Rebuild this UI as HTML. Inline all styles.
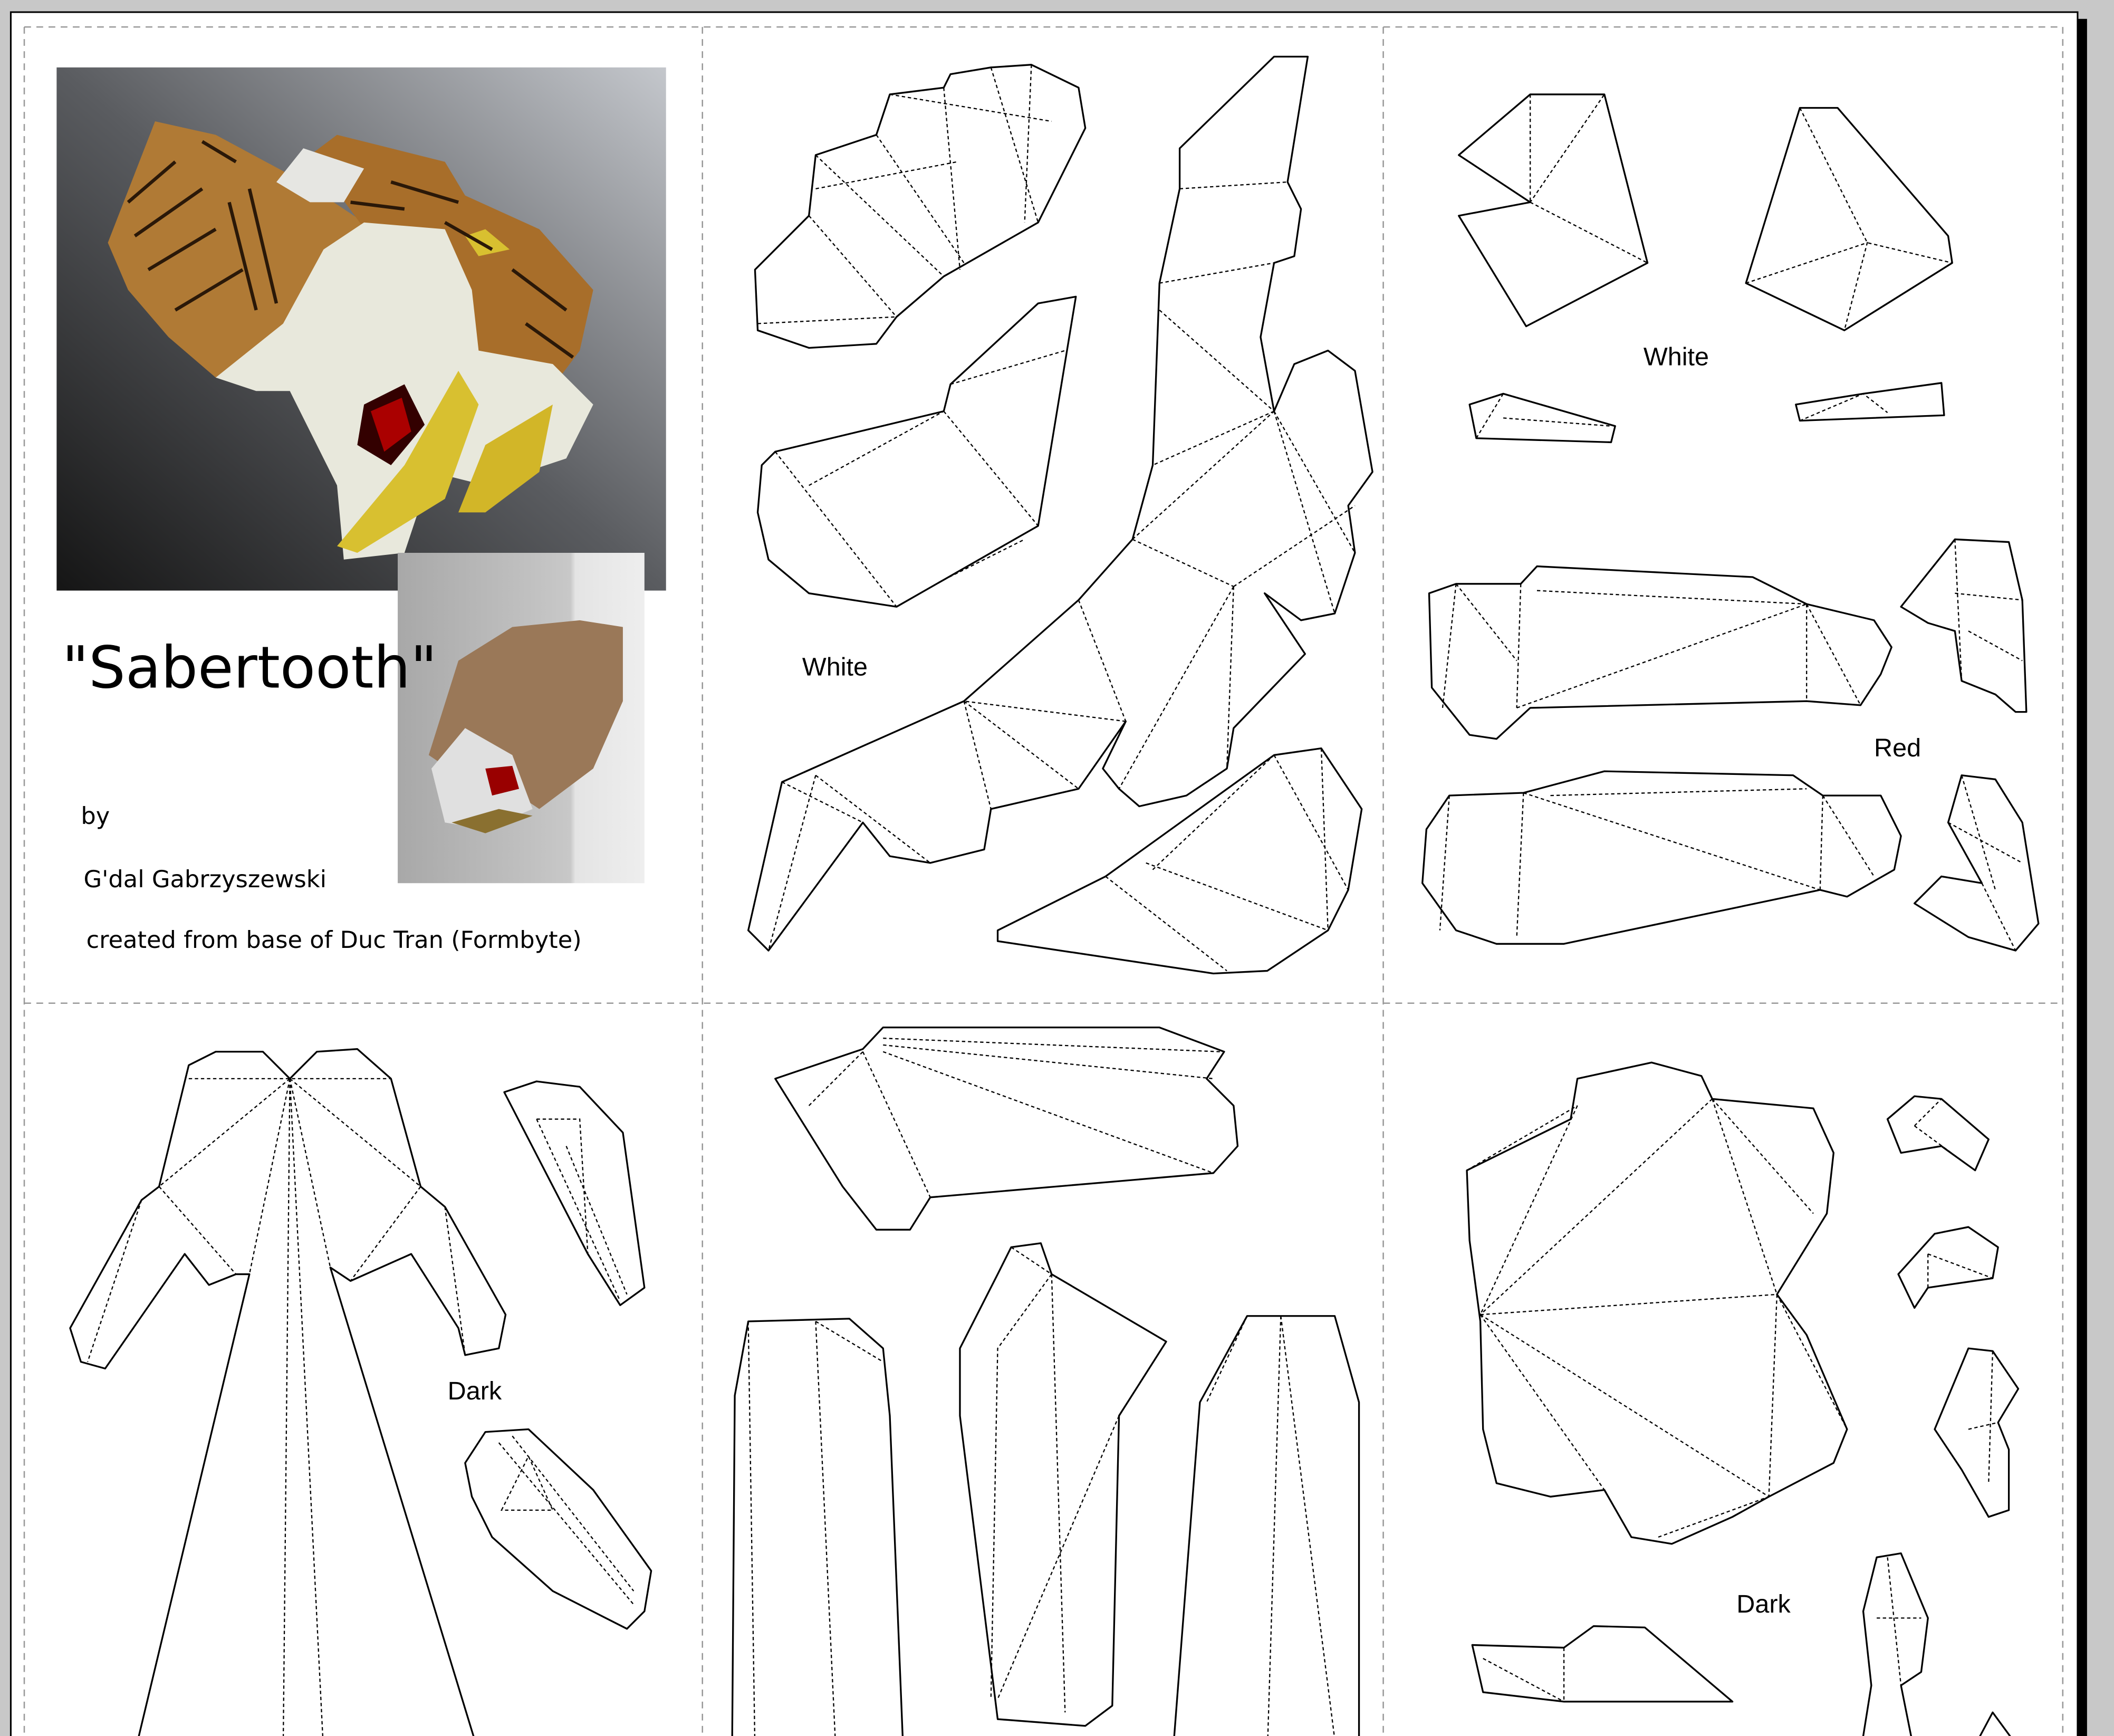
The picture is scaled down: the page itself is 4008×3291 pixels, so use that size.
<!DOCTYPE html>
<html><head><meta charset="utf-8"><style>
html,body{margin:0;padding:0;background:#c8c8c8;}
svg{display:block;}
.o{fill:#fff;stroke:#000;stroke-width:1.3;stroke-linejoin:round;}
.d{fill:none;stroke:#000;stroke-width:0.9;stroke-dasharray:2.5 2;}
.t{font-family:"Liberation Sans",sans-serif;font-size:19px;fill:#000;}
.c{font-family:"Comic Sans MS","DejaVu Sans",sans-serif;fill:#000;}
</style></head><body>
<svg width="4008" height="3291" viewBox="0 0 1568 1287.5" xmlns="http://www.w3.org/2000/svg">
<defs>
<linearGradient id="bg" x1="0" y1="1" x2="1" y2="0">
<stop offset="0" stop-color="#151515"/><stop offset="0.5" stop-color="#5a5c60"/><stop offset="1" stop-color="#c4c7cc"/></linearGradient>
<linearGradient id="sm" x1="0" y1="0" x2="1" y2="0">
<stop offset="0" stop-color="#a8a8a8"/><stop offset="0.7" stop-color="#c8c8c8"/><stop offset="0.72" stop-color="#e4e4e4"/><stop offset="1" stop-color="#eee"/></linearGradient>
</defs>
<rect x="0" y="0" width="1568" height="1288" fill="#c8c8c8"/>
<rect x="1540" y="14" width="8" height="1280" fill="#000"/>
<rect x="8" y="9" width="1533" height="1290" fill="#fff" stroke="#000" stroke-width="1.2"/>
<g stroke="#999" stroke-width="1" stroke-dasharray="5 4" fill="none">
<path d="M18 20H1530M18 744H1530M18 20V1288M521 20V1288M1026 20V1288M1530 20V1288"/>
</g>
<rect x="42" y="50" width="452" height="388" fill="url(#bg)"/>
<g stroke="none">
<polygon points="80,180 115,90 160,100 225,135 270,165 300,185 255,245 200,290 160,280 125,250 95,215" fill="#b07a35"/>
<polygon points="230,115 250,100 290,110 330,120 345,145 400,170 440,215 430,260 400,300 330,270 300,210" fill="#a86e2a"/>
<polygon points="205,135 225,110 270,125 255,150 230,150" fill="#e6e6e2"/>
<polygon points="160,280 210,240 240,185 270,165 330,170 350,215 355,260 410,270 440,300 420,340 360,360 320,350 300,410 255,415 250,360 240,340 215,290 190,290" fill="#e8e8dc"/>
<polygon points="270,300 300,285 315,315 290,345 265,330" fill="#300"/>
<polygon points="275,305 298,295 305,320 285,335" fill="#a00"/>
<polygon points="300,345 340,275 355,300 330,370 265,410 250,405" fill="#d8c030"/>
<polygon points="340,380 360,330 410,300 400,350 360,380" fill="#d2b628"/>
<polygon points="345,175 360,170 378,185 355,190" fill="#d8c030"/>
</g>
<g stroke="#2a1808" stroke-width="2.5" fill="none">
<path d="M95 150 L130 120 M100 175 L150 140 M110 200 L160 170 M130 230 L180 200 M170 150 L190 230 M185 140 L205 225 M290 135 L340 150 M330 165 L365 185 M380 200 L420 230 M390 240 L425 265 M150 105 L175 120 M260 150 L300 155"/>
</g>
<rect x="295" y="410" width="183" height="245" fill="url(#sm)"/>
<polygon points="318,560 340,490 380,465 430,460 462,465 462,520 440,570 400,600 370,580 340,575" fill="#9a7858"/>
<polygon points="320,570 345,540 380,560 395,600 360,615 330,610" fill="#e0e0e0"/>
<polygon points="335,610 370,600 395,605 360,618" fill="#8a7030"/>
<polygon points="360,570 380,568 385,585 365,590" fill="#900"/>
<text class="c" x="46" y="510" font-size="43">"Sabertooth"</text>
<text class="c" x="60" y="611" font-size="17.5">by</text>
<text class="c" x="62" y="658" font-size="17.5">G'dal Gabrzyszewski</text>
<text class="c" x="64" y="703" font-size="17.5">created from base of Duc Tran (Formbyte)</text>
<text class="t" x="595" y="501">White</text>
<text class="t" x="1219" y="271">White</text>
<text class="t" x="1390" y="561">Red</text>
<text class="t" x="332" y="1038">Dark</text>
<text class="t" x="1288" y="1196">Dark</text>
<polygon class="o" points="560,200 600,160 605,115 650,100 660,70 700,65 705,55 735,50 765,48 800,65 805,95 770,165 700,205 665,235 650,255 600,258 562,245"/>
<path class="d" d="M562,240 L665,235 M600,160 L665,235 M605,115 L700,205 M650,100 L715,195 M700,65 L712,200 M735,50 L770,165 M765,48 L760,165 M660,70 L780,90 M605,140 L710,120"/>
<polygon class="o" points="565,345 575,335 700,305 705,285 770,225 798,220 770,390 700,430 665,450 600,440 570,415 562,380"/>
<path class="d" d="M575,335 L665,450 M700,305 L770,390 M705,285 L790,260 M600,360 L700,305 M700,430 L760,400"/>
<polygon class="o" points="875,110 945,42 970,42 955,135 965,155 960,190 945,195 935,250 945,305 960,270 985,260 1005,275 1018,350 1000,375 1005,410 990,455 965,460 938,440 968,485 915,540 910,570 880,590 845,598 830,585 818,570 835,535 800,585 735,600 730,630 690,640 660,635 640,610 570,705 555,690 580,580 715,520 800,445 840,400 855,345 860,210 875,140"/>
<path class="d" d="M875,140 L955,135 M945,42 L875,110 M860,210 L945,195 M860,230 L945,305 M945,305 L855,345 M945,305 L1005,410 M945,305 L990,455 M840,400 L915,435 M915,435 L1005,375 M915,435 L910,570 M800,445 L835,535 M835,535 L715,520 M715,520 L735,600 M715,520 L800,585 M580,580 L640,610 M605,575 L690,640 M605,575 L570,705 M840,400 L945,305 M915,435 L830,585"/>
<polygon class="o" points="740,690 820,650 945,560 980,555 1010,600 1000,660 985,690 940,720 900,722 740,698"/>
<path class="d" d="M820,650 L910,720 M945,560 L1000,660 M850,640 L985,690 M855,645 L945,560 M980,555 L985,690"/>
<polygon class="o" points="1082,115 1135,70 1190,70 1222,195 1132,242 1082,160 1135,150"/>
<path class="d" d="M1082,115 L1135,150 L1190,70 M1135,150 L1222,195 M1135,70 L1135,150"/>
<polygon class="o" points="1295,210 1335,80 1363,80 1445,175 1448,195 1368,245"/>
<path class="d" d="M1335,80 L1385,180 L1448,195 M1363,80 L1445,175 M1295,210 L1385,180 L1368,245"/>
<polygon class="o" points="1090,300 1115,292 1198,316 1195,328 1095,325"/>
<path class="d" d="M1095,325 L1115,292 M1115,310 L1195,316"/>
<polygon class="o" points="1332,300 1382,292 1440,284 1442,308 1335,312"/>
<path class="d" d="M1335,312 L1382,292 L1400,306"/>
<polygon class="o" points="1060,440 1080,433 1128,433 1140,420 1300,428 1340,448 1390,460 1403,480 1395,500 1380,523 1340,520 1135,525 1110,548 1090,545 1062,510"/>
<path class="d" d="M1128,433 L1125,525 M1140,438 L1340,448 M1125,525 L1340,448 M1340,448 L1340,520 M1340,448 L1380,523 M1080,433 L1070,525 M1080,433 L1125,490"/>
<polygon class="o" points="1058,615 1075,590 1130,588 1190,572 1330,575 1352,590 1395,590 1410,620 1405,645 1370,665 1350,660 1160,700 1110,700 1080,690 1055,655"/>
<path class="d" d="M1130,588 L1125,695 M1130,588 L1350,660 M1352,590 L1350,660 M1352,590 L1390,650 M1075,590 L1068,690 M1150,590 L1340,585"/>
<polygon class="o" points="1410,450 1450,400 1490,402 1500,445 1503,528 1495,528 1480,515 1455,505 1450,468 1430,462"/>
<path class="d" d="M1450,400 L1455,505 M1450,440 L1500,445 M1460,468 L1500,490"/>
<polygon class="o" points="1420,670 1440,650 1470,655 1445,610 1455,575 1480,578 1500,610 1512,685 1495,705 1460,695"/>
<path class="d" d="M1470,655 L1495,705 M1455,575 L1480,660 M1445,610 L1500,640"/>
<polygon class="o" points="52,985 105,890 118,880 140,790 160,780 195,780 215,800 235,780 265,778 290,800 312,880 330,895 375,975 370,1000 345,1005 340,985 305,930 260,950 245,940 355,1300 100,1300 185,945 175,945 155,953 137,930 78,1015 60,1010"/>
<path class="d" d="M215,800 L210,1300 M215,800 L240,1300 M140,800 L290,800 M215,800 L118,880 M215,800 L312,880 M215,800 L185,945 M215,800 L245,940 M118,880 L175,945 M312,880 L260,950 M105,890 L65,1010 M330,895 L345,1005"/>
<polygon class="o" points="374,810 398,802 430,806 462,840 478,955 460,968 436,930"/>
<path class="d" d="M398,830 L460,965 M398,830 L430,830 L436,930 M420,850 L465,960"/>
<polygon class="o" points="345,1085 360,1062 392,1060 440,1105 483,1165 478,1195 465,1208 410,1180 365,1140 350,1110"/>
<path class="d" d="M370,1070 L470,1190 M372,1120 L392,1080 L410,1120 Z M380,1065 L470,1180"/>
<polygon class="o" points="575,800 640,778 655,762 860,762 908,780 895,800 915,820 918,850 900,870 690,888 675,912 650,912 625,880"/>
<path class="d" d="M640,780 L690,888 M655,780 L900,870 M655,775 L900,800 M600,820 L640,780 M655,770 L905,780"/>
<polygon class="o" points="545,1035 555,980 630,978 655,1000 660,1050 670,1300 543,1300"/>
<path class="d" d="M555,980 L560,1300 M605,980 L620,1300 M605,980 L655,1010"/>
<polygon class="o" points="740,945 750,925 772,922 780,945 865,995 830,1050 825,1265 805,1280 740,1275 712,1050 712,1000"/>
<path class="d" d="M780,945 L740,1000 L735,1260 M830,1050 L740,1260 M780,945 L790,1270 M750,925 L780,945"/>
<polygon class="o" points="890,1040 925,976 990,976 1008,1040 1008,1300 870,1300"/>
<path class="d" d="M950,976 L940,1300 M950,976 L990,1290 M925,976 L895,1040"/>
<polygon class="o" points="1088,868 1165,830 1170,800 1225,788 1262,798 1270,815 1345,822 1360,855 1355,900 1318,960 1340,990 1370,1060 1360,1085 1312,1110 1285,1125 1240,1145 1210,1140 1190,1105 1150,1110 1110,1100 1100,1060 1098,980 1090,920"/>
<path class="d" d="M1098,975 L1318,960 M1170,820 L1098,975 M1270,815 L1098,975 M1270,815 L1318,960 M1270,815 L1345,900 M1098,975 L1312,1110 M1098,975 L1190,1105 M1318,960 L1312,1110 M1318,960 L1370,1060 M1088,868 L1170,820 M1230,1140 L1312,1110"/>
<polygon class="o" points="1400,830 1420,813 1440,815 1475,845 1465,868 1440,850 1410,855"/>
<path class="d" d="M1420,835 L1465,868 M1420,835 L1440,815"/>
<polygon class="o" points="1408,945 1435,915 1460,910 1482,925 1478,948 1430,955 1420,970"/>
<path class="d" d="M1430,930 L1478,948 M1430,930 L1430,955"/>
<polygon class="o" points="1435,1060 1460,1000 1478,1002 1497,1030 1482,1055 1490,1075 1490,1120 1475,1125 1455,1090"/>
<path class="d" d="M1460,1060 L1482,1055 M1478,1002 L1475,1100"/>
<polygon class="o" points="1382,1195 1392,1155 1410,1152 1430,1200 1425,1240 1410,1250 1420,1300 1380,1300 1388,1250"/>
<path class="d" d="M1400,1155 L1410,1250 M1392,1200 L1425,1200"/>
<polygon class="o" points="1092,1220 1160,1222 1182,1206 1220,1207 1285,1262 1160,1262 1100,1255"/>
<path class="d" d="M1100,1230 L1160,1262 M1160,1222 L1160,1262"/>
<polygon class="o" points="1462,1300 1478,1270 1500,1300"/>
</svg>
</body></html>
